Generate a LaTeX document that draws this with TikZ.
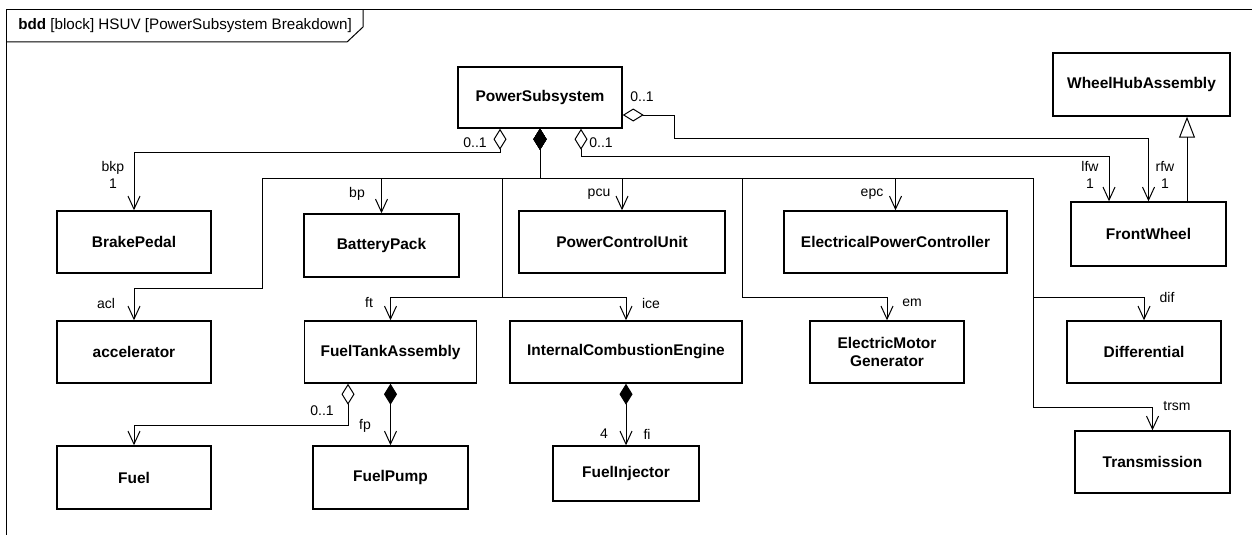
\documentclass[tikz,border=0pt]{standalone}
\usepackage{fontspec}
\setmainfont{Liberation Sans}
\usetikzlibrary{arrows.meta, calc}
\tikzset{
  blk/.style   = {rectangle, draw, line width=1.1pt, align=center,
                  font=\fontsize{11.6}{13.2}\selectfont\bfseries, inner sep=2pt,
                  minimum width=115.5pt, minimum height=46.5pt},
  lbl/.style   = {font=\fontsize{10.5}{12.5}\selectfont, inner sep=0pt, align=center},
  assoc/.style = {-{Straight Barb[length=9.75pt, width=9pt]}, line width=0.75pt},
  comp/.style  = {{Diamond[length=15.75pt, width=9.75pt]}-{Straight Barb[length=9.75pt, width=9pt]},
                  line width=0.75pt},
  aggr/.style  = {{Diamond[open, length=15.75pt, width=9.75pt]}-{Straight Barb[length=9.75pt, width=9pt]},
                  line width=0.75pt},
  gen/.style   = {-{Triangle[open, length=15.75pt, width=12pt]}, line width=0.75pt},
  frm/.style   = {line width=0.75pt},
}

\begin{document}
\begin{tikzpicture}[x=0.75pt, y=-0.75pt]
  \useasboundingbox (0,0) rectangle (1252,535);
  % frame
  \draw[frm] (6,535) -- (6,10) -- (1252,10);
  \draw[frm] (6,42) -- (347,42) -- (363,27) -- (363,10);
  \node[anchor=west, inner sep=0pt, font=\fontsize{11.4}{13}\selectfont] (title) at (18,26)
    {\textbf{bdd} [block] HSUV [PowerSubsystem Breakdown]};

  % blocks
  \node[blk, minimum width=123pt, minimum height=45.75pt] (ps) at (540,97.5) {PowerSubsystem};
  \node[blk, minimum width=132.75pt, minimum height=47.25pt] (whub) at (1141.5,84.5) {WheelHubAssembly};
  \node[blk, minimum width=116.25pt, minimum height=48pt] (fw) at (1148.5,234) {FrontWheel};
  \node[blk] (brake) at (134,242) {BrakePedal};
  \node[blk, minimum width=116.25pt, minimum height=47.25pt] (batt) at (381.5,245.5) {BatteryPack};
  \node[blk, minimum width=154.5pt] (pcu) at (622,242) {PowerControlUnit};
  \node[blk, minimum width=167.25pt] (epc) at (895.5,242) {ElectricalPowerController};
  \node[blk] (acl) at (134,352) {accelerator};
  \node[blk, minimum width=129pt] (fta) at (390.5,352) {FuelTankAssembly};
  \node[blk, minimum width=174pt] (ice) at (626,352) {InternalCombustionEngine};
  \node[blk] (emg) at (887,352) {ElectricMotor\\Generator};
  \node[blk] (dif) at (1144,352) {Differential};
  \node[blk, minimum width=116.25pt] (trsm) at (1152.5,462) {Transmission};
  \node[blk, minimum height=47.25pt] (fuel) at (134,477.5) {Fuel};
  \node[blk, minimum width=116.25pt, minimum height=47.25pt] (fpump) at (390.5,477.5) {FuelPump};
  \node[blk, minimum width=109.5pt, minimum height=41.25pt] (finj) at (626,473.5) {FuelInjector};

  % composite parts of PowerSubsystem
  \coordinate (bus) at (540,178);
  \foreach \t in {batt, pcu, epc}{\draw[comp] (ps.south) -- (bus) -| (\t.north);}
  \foreach \bx/\by/\t in {262/288/acl, 502/297/fta, 502/297/ice, 742/297/emg,
                          1033/297/dif, 1033/407/trsm}{
    \draw[comp] (ps.south) -- (bus) -| (\bx,\by) -| (\t.north);
  }

  % shared parts
  \draw[aggr] ($(ps.south)+(-40,0)$) |- (134,152) -- (brake.north);
  \coordinate (lfwbend) at (1109,156);
  \draw[aggr] ($(ps.south)+(41,0)$) |- (lfwbend) -- (lfwbend |- fw.north);
  \draw[aggr] ($(ps.east)+(0,17.5)$) -- (674,115) |- (1148.5,138) -- (fw.north);
  \coordinate (gbase) at ($(fw.north)+(38.5,0)$);
  \draw[gen] (gbase) -- (gbase |- whub.south);

  % fuel tank and engine parts
  \draw[aggr] ($(fta.south)+(-42.5,0)$) |- (134,425) -- (fuel.north);
  \draw[comp] (fta.south) -- (fpump.north);
  \draw[comp] (ice.south) -- (finj.north);

  % role names and multiplicities
  \node[lbl] (m-bkp) at (475,143) {0..1};
  \node[lbl] (m-lfw) at (601,143) {0..1};
  \node[lbl] (m-rfw) at (642,97) {0..1};
  \node[lbl] (r-bkp) at (113,175) {bkp\\1};
  \node[lbl] (r-lfw) at (1090,175) {lfw\\1};
  \node[lbl] (r-rfw) at (1165,175) {rfw\\1};
  \node[lbl] (r-bp) at (357,194) {bp};
  \node[lbl] (r-pcu) at (599,194) {pcu};
  \node[lbl] (r-epc) at (872,194) {epc};
  \node[lbl] (r-acl) at (106,303) {acl};
  \node[lbl] (r-ft) at (369,302) {ft};
  \node[lbl] (r-ice) at (651,303) {ice};
  \node[lbl] (r-em) at (912,303) {em};
  \node[lbl] (r-dif) at (1167,297) {dif};
  \node[lbl] (r-trsm) at (1177,406) {trsm};
  \node[lbl] (m-fuel) at (322,411) {0..1};
  \node[lbl] (r-fp) at (365,426) {fp};
  \node[lbl] (m-fi) at (604,434) {4};
  \node[lbl] (r-fi) at (647,434) {fi};
\end{tikzpicture}
\end{document}
